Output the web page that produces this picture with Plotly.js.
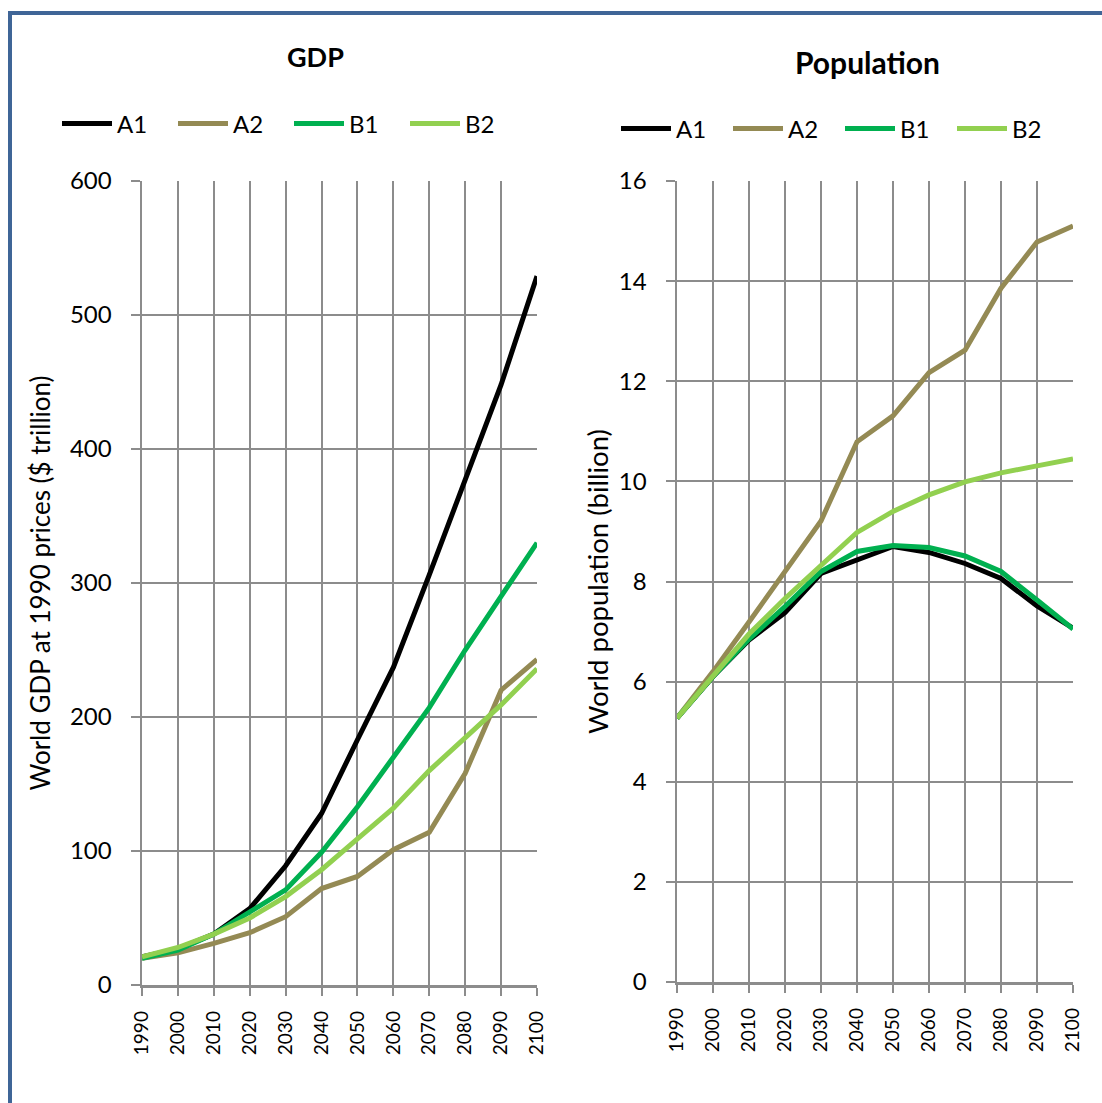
<!DOCTYPE html>
<html>
<head>
<meta charset="utf-8">
<script src="https://cdn.plot.ly/plotly-3.0.1.min.js"></script>
<style>
html,body{margin:0;padding:0;background:#fff;}
#chart{width:1102px;height:1103px;}
</style>
</head>
<body>
<div id="chart"></div>
<script>
const years = [1990, 2000, 2010, 2020, 2030, 2040, 2050, 2060, 2070, 2080, 2090, 2100];
const seriesNames = ['A1', 'A2', 'B1', 'B2'];
const seriesColors = ['#000000', '#948A54', '#00B050', '#92D050'];

// World GDP at 1990 prices ($ trillion)
const gdpA1 = [21, 27, 38, 57, 89, 128, 183, 237, 306, 377, 448, 529];
const gdpA2 = [20, 24, 31, 39, 51, 72, 81, 101, 114, 158, 220, 243];
const gdpB1 = [20, 26, 38, 54, 71, 99, 133, 170, 207, 250, 290, 330];
const gdpB2 = [21, 28, 38, 50, 66, 86, 109, 132, 160, 185, 209, 236];

// World population (billion)
const popA1 = [5.27, 6.1, 6.83, 7.38, 8.16, 8.43, 8.70, 8.58, 8.36, 8.06, 7.51, 7.07];
const popA2 = [5.27, 6.2, 7.19, 8.19, 9.21, 10.79, 11.31, 12.17, 12.62, 13.86, 14.78, 15.1];
const popB1 = [5.27, 6.1, 6.85, 7.5, 8.2, 8.6, 8.72, 8.68, 8.51, 8.2, 7.63, 7.05];
const popB2 = [5.27, 6.1, 6.95, 7.66, 8.33, 8.98, 9.4, 9.73, 9.99, 10.17, 10.31, 10.45];

const gdpSeries = [gdpA1, gdpA2, gdpB1, gdpB2];
const popSeries = [popA1, popA2, popB1, popB2];

const W = 1102, H = 1103;
const FONT = 'Lato, "Open Sans", "Liberation Sans", sans-serif';
const GRID = '#8C8C8C';

const traces = [];
seriesNames.forEach((n, i) => {
  traces.push({
    x: years, y: gdpSeries[i], name: n, type: 'scatter', mode: 'lines',
    line: {color: seriesColors[i], width: 5},
    xaxis: 'x', yaxis: 'y', legend: 'legend'
  });
});
seriesNames.forEach((n, i) => {
  traces.push({
    x: years, y: popSeries[i], name: n, type: 'scatter', mode: 'lines',
    line: {color: seriesColors[i], width: 5},
    xaxis: 'x2', yaxis: 'y2', legend: 'legend2'
  });
});

function xAxis(domain, anchor) {
  return {
    domain: domain, anchor: anchor, range: [1990, 2100], automargin: false,
    tickmode: 'array', tickvals: years, ticktext: years.map(String),
    tickangle: -90, ticks: 'outside', ticklen: 8, tickwidth: 2, tickcolor: GRID,
    showgrid: true, gridcolor: GRID, gridwidth: 2,
    showline: true, linecolor: GRID, linewidth: 2.5,
    zeroline: false, ticklabelstandoff: 8,
    tickfont: {family: FONT, size: 19, color: '#000'}
  };
}
function yAxis(domain, anchor, range, dtick, title, titleSize, standoff) {
  return {
    domain: domain, anchor: anchor, range: range, dtick: dtick, automargin: false,
    ticks: 'outside', ticklen: 9, tickwidth: 2, tickcolor: GRID,
    showgrid: true, gridcolor: GRID, gridwidth: 2,
    showline: true, linecolor: GRID, linewidth: 2.5,
    zeroline: false, ticklabelstandoff: 14,
    tickfont: {family: FONT, size: 24, color: '#000'},
    title: {text: title, font: {family: FONT, size: titleSize, color: '#000'}, standoff: standoff}
  };
}

const layout = {
  width: W, height: H,
  margin: {l: 0, r: 0, t: 0, b: 0, autoexpand: false},
  paper_bgcolor: '#fff', plot_bgcolor: '#fff',
  showlegend: true,
  xaxis: xAxis([142 / W, 537 / W], 'y'),
  yaxis: yAxis([1 - 985 / H, 1 - 181 / H], 'x', [0, 600], 100, 'World GDP at 1990 prices ($ trillion)', 26, 12),
  xaxis2: xAxis([677 / W, 1073 / W], 'y2'),
  yaxis2: yAxis([1 - 982 / H, 1 - 181 / H], 'x2', [0, 16], 2, 'World population (billion)', 27.5, 2),
  legend: {
    orientation: 'h', x: 57 / W, y: 1 - 124 / H, xanchor: 'left', yanchor: 'middle',
    entrywidth: 51, entrywidthmode: 'pixels', itemwidth: 50,
    font: {family: FONT, size: 24, color: '#000'}, bgcolor: 'rgba(0,0,0,0)', traceorder: 'normal'
  },
  legend2: {
    orientation: 'h', x: 616 / W, y: 1 - 129 / H, xanchor: 'left', yanchor: 'middle',
    entrywidth: 47, entrywidthmode: 'pixels', itemwidth: 50,
    font: {family: FONT, size: 24, color: '#000'}, bgcolor: 'rgba(0,0,0,0)', traceorder: 'normal'
  },
  annotations: [
    {text: '<b>GDP</b>', xref: 'paper', yref: 'paper', x: 315 / W, y: 1 - 57 / H,
     showarrow: false, xanchor: 'center', yanchor: 'middle',
     font: {family: FONT, size: 27, color: '#000'}},
    {text: '<b>Population</b>', xref: 'paper', yref: 'paper', x: 867 / W, y: 1 - 62 / H,
     showarrow: false, xanchor: 'center', yanchor: 'middle',
     font: {family: FONT, size: 30, color: '#000'}}
  ],
  shapes: [
    {type: 'rect', xref: 'paper', yref: 'paper',
     x0: 10 / W, x1: 1.2, y0: -0.2, y1: 1 - 13 / H,
     line: {color: '#3F6597', width: 4}, fillcolor: 'rgba(0,0,0,0)', layer: 'below'}
  ]
};

Plotly.newPlot('chart', traces, layout, {staticPlot: true, displayModeBar: false});
</script>
</body>
</html>
